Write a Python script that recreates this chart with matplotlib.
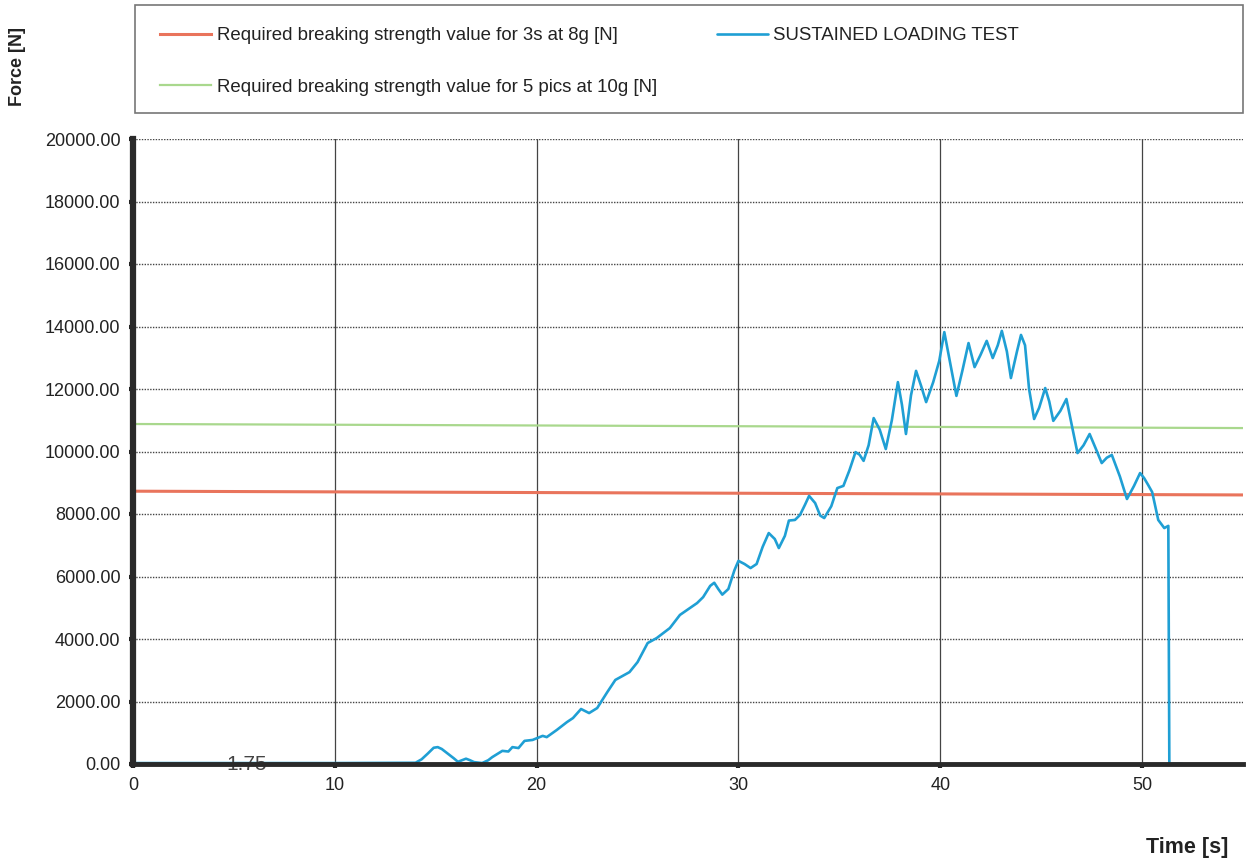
import matplotlib
matplotlib.use("Agg")
import matplotlib.pyplot as plt
from matplotlib.patches import Rectangle

plt.rcParams['font.family'] = ['Liberation Sans', 'DejaVu Sans']

# ---- data ----
time_s = [0, 5, 10, 14.0, 14.3, 14.6, 14.9, 15.1, 15.3, 15.6, 15.9, 16.1, 16.3, 16.5, 16.7, 16.9,
          17.3, 17.6, 17.8, 18.3, 18.6, 18.8, 19.1, 19.4, 19.8, 20.3, 20.5, 21.0, 21.5, 21.8,
          22.2, 22.6, 23.0, 23.5, 23.9, 24.6, 25.0, 25.5, 25.95, 26.6, 27.1, 27.95, 28.25,
          28.6, 28.8, 29.0, 29.2, 29.5, 29.8, 30.0, 30.3, 30.6, 30.9, 31.2, 31.5, 31.8, 32.0,
          32.3, 32.5, 32.8, 33.05, 33.3, 33.5, 33.8, 34.05, 34.25, 34.6, 34.9, 35.2, 35.5,
          35.8, 36.0, 36.2, 36.45, 36.7, 37.0, 37.3, 37.6, 37.9, 38.1, 38.3, 38.55, 38.8,
          39.05, 39.3, 39.65, 39.95, 40.2, 40.5, 40.8, 41.1, 41.4, 41.7, 42.0, 42.3, 42.6,
          42.85, 43.05, 43.3, 43.5, 43.8, 44.0, 44.2, 44.4, 44.65, 44.9, 45.2, 45.4, 45.6,
          45.95, 46.25, 46.5, 46.8, 47.1, 47.4, 47.7, 48.0, 48.25, 48.5, 48.9, 49.25, 49.6,
          49.9, 50.1, 50.3, 50.5, 50.8, 51.1, 51.3, 51.35, 52.0]
force_n = [30, 30, 30, 40, 150, 330, 520, 540, 480, 330, 180, 70, 120, 170, 120, 60,
           30, 120, 220, 420, 400, 540, 510, 740, 770, 900, 860, 1090, 1340, 1470,
           1760, 1630, 1790, 2300, 2690, 2940, 3260, 3870, 4030, 4350, 4770, 5150, 5340,
           5700, 5800, 5600, 5420, 5600, 6200, 6500, 6400, 6270, 6400, 6950, 7390, 7200, 6910,
           7300, 7790, 7810, 7970, 8300, 8580, 8350, 7950, 7870, 8250, 8830, 8900, 9400,
           9980, 9900, 9700, 10200, 11070, 10700, 10080, 11000, 12220, 11500, 10560, 11800, 12580,
           12100, 11580, 12220, 12900, 13820, 12800, 11780, 12600, 13470, 12700, 13100, 13540, 12990,
           13400, 13860, 13200, 12350, 13200, 13730, 13400, 12000, 11040, 11400, 12030, 11600, 10980,
           11300, 11680, 10900, 9950, 10200, 10560, 10100, 9630, 9800, 9890, 9200, 8480, 8900,
           9310, 9150, 8930, 8700, 7810, 7550, 7620, 0, 0]

req_3s_x = [0, 55]
req_3s_y = [8730, 8610]
req_5p_x = [0, 55]
req_5p_y = [10880, 10750]

y_ticks = [0, 2000, 4000, 6000, 8000, 10000, 12000, 14000, 16000, 18000, 20000]
x_ticks = [0, 10, 20, 30, 40, 50]

W, H = 1246, 860
fig = plt.figure(figsize=(W / 100, H / 100), dpi=100)
fig.patch.set_facecolor('white')
ax = fig.add_axes([133 / W, 1 - 764 / H, (1243 - 133) / W, (764 - 139) / H])

ax.set_xlim(0, 55)
ax.set_ylim(0, 20000)

# grid
for yv in y_ticks[1:]:
    ax.axhline(yv, color='#444444', lw=1.0, ls=(0, (1, 1)), zorder=1)
for xv in x_ticks[1:]:
    ax.axvline(xv, color='#444444', lw=0.9, zorder=1)

l1, = ax.plot(req_3s_x, req_3s_y, color='#e9745c', lw=2.2, zorder=3,
              label='Required breaking strength value for 3s at 8g [N]')
l2, = ax.plot(req_5p_x, req_5p_y, color='#a9d88d', lw=1.6, zorder=3,
              label='Required breaking strength value for 5 pics at 10g [N]')
l3, = ax.plot(time_s, force_n, color='#1f9fd4', lw=1.9, zorder=4,
              solid_joinstyle='round', solid_capstyle='round',
              label='SUSTAINED LOADING TEST')

ax.text(5.65, 0, '1.75', ha='center', va='center', fontsize=15, color='#444444', zorder=5)

ax.set_xticks(x_ticks)
ax.set_xticklabels([str(v) for v in x_ticks])
ax.set_yticks(y_ticks)
ax.set_yticklabels([f'{v:.2f}' for v in y_ticks])
ax.tick_params(axis='both', direction='out', length=3, width=3, color='#222222',
               labelsize=13, labelcolor='#222222')
ax.tick_params(axis='x', pad=6)
ax.tick_params(axis='y', pad=6)

for s in ['top', 'right']:
    ax.spines[s].set_visible(False)
ax.spines['left'].set_linewidth(4.5)
ax.spines['left'].set_color('#2a2a2a')
ax.spines['bottom'].set_linewidth(3.5)
ax.spines['bottom'].set_color('#2a2a2a')
ax.spines['left'].set_zorder(6)
ax.spines['bottom'].set_zorder(6)

# legend frame
fig.patches.append(Rectangle((135 / W, 1 - 113 / H), 1108 / W, 108 / H,
                             transform=fig.transFigure, facecolor='none',
                             edgecolor='#777777', lw=1.2))
leg = fig.legend(handles=[l1, l2, l3], ncol=2, loc='center left',
                 bbox_to_anchor=(160 / W, 1 - 61.5 / H), frameon=False,
                 fontsize=13.4, handlelength=2.75, handletextpad=0.3,
                 columnspacing=3.2, labelspacing=1.85, borderpad=0,
                 borderaxespad=0)
for t in leg.get_texts():
    t.set_color('#222222')

fig.text(18 / W, 1 - 67 / H, 'Force [N]', rotation=90, ha='center', va='center',
         fontsize=13, fontweight='bold', color='#222222')
fig.text(1187 / W, 1 - 847 / H, 'Time [s]', ha='center', va='center',
         fontsize=15.5, fontweight='bold', color='#222222')

fig.savefig('out.png', dpi=100)
